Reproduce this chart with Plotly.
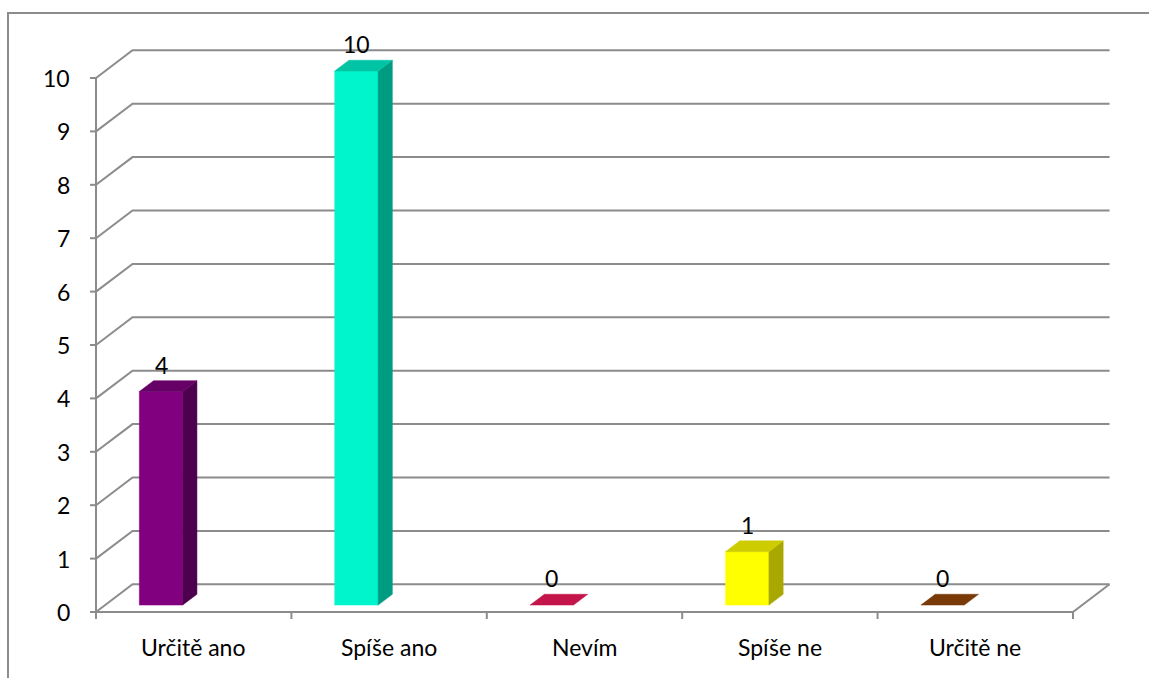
import plotly.graph_objects as go

# Survey answers and counts
categories = ["Určitě ano", "Spíše ano", "Nevím", "Spíše ne", "Určitě ne"]
counts = [4, 10, 0, 1, 0]
y_ticks = list(range(0, 11))

# Colours per bar: front face, side face, top face
front_colors = ["#800080", "#00F5CC", "#D4174F", "#FFFF00", "#8A4408"]
side_colors = ["#4E004E", "#009C82", "#8A0F33", "#A8A800", "#5A2C05"]
top_colors = ["#660066", "#00C4A3", "#C4154A", "#CCCC00", "#7A3A08"]

GRID = "#8C8C8C"
FONT = "Lato"
FSIZE = 23

# Pseudo-3D projection: depth d in [0, 1] shifts points right and up
DEPTH_X = 0.187   # category units for full depth
DEPTH_Y = 0.519   # value units for full depth
BAR_D0, BAR_D1 = 0.25, 0.64
BAR_L, BAR_R = 0.175, 0.397


def proj(x, v, d):
    return x + d * DEPTH_X, v + d * DEPTH_Y


def poly(points):
    xs = [p[0] for p in points] + [points[0][0]]
    ys = [p[1] for p in points] + [points[0][1]]
    return xs, ys


fig = go.Figure()

# Walls, floor and gridlines
gx, gy = [], []
n = len(categories)
for v in y_ticks:
    for pt in (proj(0, v, 0), proj(0, v, 1), proj(n, v, 1)):
        gx.append(pt[0]); gy.append(pt[1])
    gx.append(None); gy.append(None)
for pt in (proj(0, 10, 0), proj(0, 0, 0), proj(n, 0, 0), proj(n, 0, 1)):
    gx.append(pt[0]); gy.append(pt[1])
fig.add_trace(go.Scatter(x=gx, y=gy, mode="lines", hoverinfo="skip",
                         line=dict(color=GRID, width=2), showlegend=False))

# Bars
for i, (cat, v) in enumerate(zip(categories, counts)):
    xl, xr = i + BAR_L, i + BAR_R
    faces = []
    if v > 0:
        faces.append(([proj(xl, 0, BAR_D0), proj(xr, 0, BAR_D0),
                       proj(xr, v, BAR_D0), proj(xl, v, BAR_D0)], front_colors[i]))
        faces.append(([proj(xr, 0, BAR_D0), proj(xr, 0, BAR_D1),
                       proj(xr, v, BAR_D1), proj(xr, v, BAR_D0)], side_colors[i]))
    faces.append(([proj(xl, v, BAR_D0), proj(xr, v, BAR_D0),
                   proj(xr, v, BAR_D1), proj(xl, v, BAR_D1)], top_colors[i]))
    for pts, col in faces:
        xs, ys = poly(pts)
        fig.add_trace(go.Scatter(x=xs, y=ys, mode="lines", fill="toself",
                                 fillcolor=col, line=dict(color=col, width=0.5),
                                 hoverinfo="skip", showlegend=False))
    # value label above the bar
    lx = proj((xl + xr) / 2, v, BAR_D0)[0]
    ly = proj(xl, v, BAR_D1)[1]
    fig.add_annotation(x=lx, y=ly, text=str(v), showarrow=False,
                       yanchor="middle", xanchor="center", yshift=16,
                       font=dict(family=FONT, size=FSIZE, color="black"))
    # category label
    fig.add_annotation(x=i + 0.5, y=0, text=cat, showarrow=False,
                       yanchor="middle", xanchor="center", yshift=-35,
                       font=dict(family=FONT, size=FSIZE, color="black"))

# Value axis labels and tick marks
shapes = []
for v in y_ticks:
    fig.add_annotation(x=0, y=v, text=str(v), showarrow=False,
                       xanchor="right", yanchor="middle", xshift=-24,
                       font=dict(family=FONT, size=FSIZE, color="black"))
    shapes.append(dict(type="line", xref="x", yref="y", xsizemode="pixel",
                       xanchor=0, x0=-6, x1=0, y0=v, y1=v,
                       line=dict(color=GRID, width=2)))
# Category axis tick marks
for i in range(n + 1):
    shapes.append(dict(type="line", xref="x", yref="y", ysizemode="pixel",
                       yanchor=0, x0=i, x1=i, y0=-7, y1=0,
                       line=dict(color=GRID, width=2)))
# Chart area border
shapes.append(dict(type="rect", xref="paper", yref="paper",
                   x0=8 / 1149, x1=1.02, y0=-0.02, y1=1 - 13 / 678,
                   line=dict(color=GRID, width=2)))

fig.update_layout(
    width=1149, height=678,
    margin=dict(l=0, r=0, t=0, b=0, pad=0),
    paper_bgcolor="white", plot_bgcolor="white",
    shapes=shapes,
    xaxis=dict(range=[-96 / 195.4, 1053 / 195.4], visible=False, fixedrange=True),
    yaxis=dict(range=[-66 / 53.4, 612 / 53.4], visible=False, fixedrange=True),
    showlegend=False,
)

fig.write_html("out.html")
